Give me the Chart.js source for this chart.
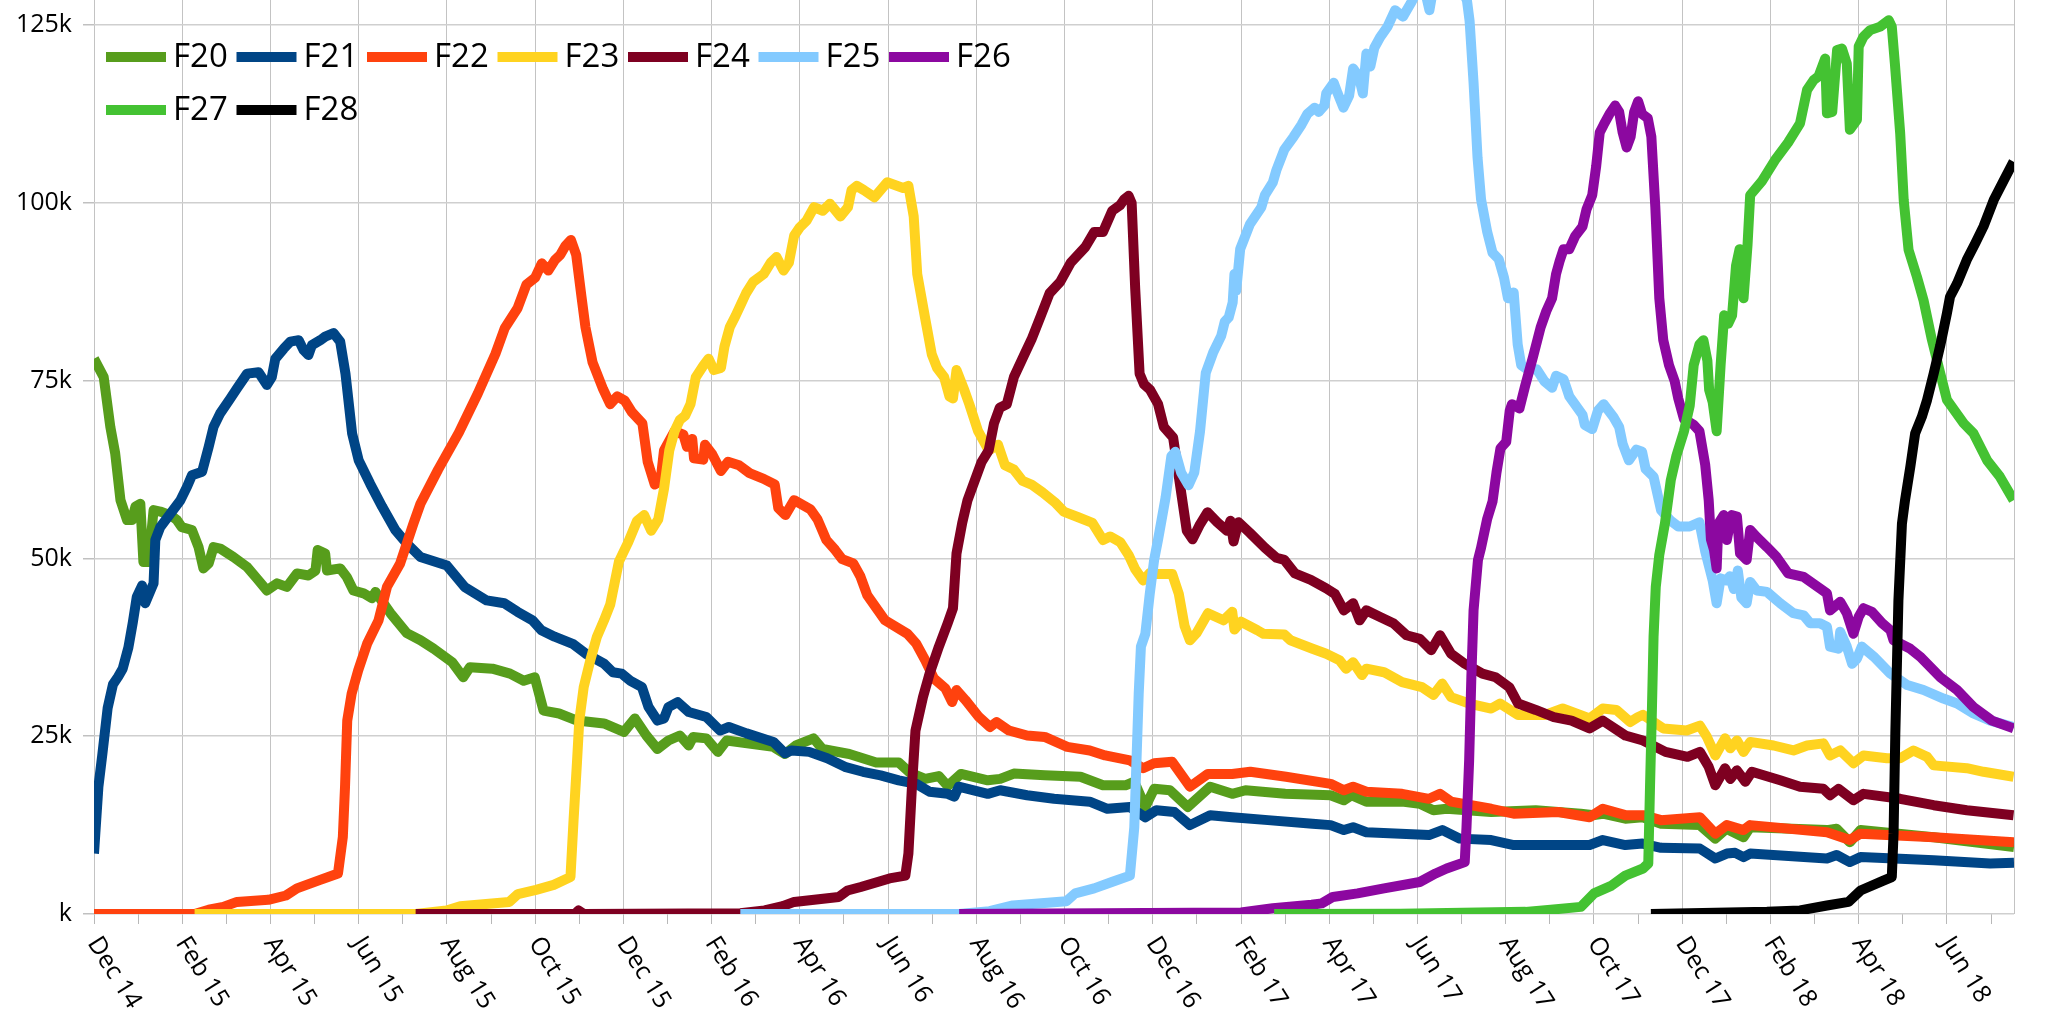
<!DOCTYPE html>
<html>
<head>
<meta charset="utf-8">
<script src="https://cdn.jsdelivr.net/npm/chart.js@4.4.1/dist/chart.umd.min.js"></script>
<style>
  html, body { margin: 0; padding: 0; background: #fff; }
  #wrap { width: 2055px; height: 1013px; }
</style>
</head>
<body>
<div id="wrap"><canvas id="chart" width="2055" height="1013"></canvas></div>
<script>
// x = months since 1 Dec 2014, y = thousands
const monthLabels = ['Dec 14', 'Feb 15', 'Apr 15', 'Jun 15', 'Aug 15', 'Oct 15', 'Dec 15',
  'Feb 16', 'Apr 16', 'Jun 16', 'Aug 16', 'Oct 16', 'Dec 16', 'Feb 17', 'Apr 17', 'Jun 17',
  'Aug 17', 'Oct 17', 'Dec 17', 'Feb 18', 'Apr 18', 'Jun 18'];
const yTicks = [0, 25, 50, 75, 100, 125];
const seriesNames = ['F20', 'F21', 'F22', 'F23', 'F24', 'F25', 'F26', 'F27', 'F28'];

const F20 = [[0,78.1],[0.22,75.5],[0.37,68.5],[0.48,64.8],[0.6,58.2],[0.75,55.4],[0.86,55.4],[0.94,57.3],[1.05,57.7],[1.12,49.5],[1.24,49.5],[1.35,56.8],[1.5,56.6],[1.73,56.1],[1.88,55.4],[1.99,54.4],[2.22,54.0],[2.37,51.6],[2.48,48.6],[2.6,49.3],[2.71,51.6],[2.86,51.4],[3.16,50.2],[3.47,48.8],[3.69,47.2],[3.92,45.5],[4.15,46.5],[4.37,46.0],[4.6,47.9],[4.86,47.6],[5.02,48.3],[5.07,51.2],[5.24,50.7],[5.28,48.3],[5.58,48.6],[5.73,47.4],[5.88,45.5],[6.11,45.1],[6.3,44.4],[6.38,45.3],[6.72,42.3],[7.09,39.5],[7.4,38.5],[7.7,37.3],[8.12,35.4],[8.37,33.3],[8.52,34.7],[9.03,34.5],[9.43,33.8],[9.74,32.8],[9.99,33.3],[10.19,28.6],[10.54,28.2],[10.95,27.2],[11.56,26.8],[12.01,25.6],[12.26,27.5],[12.52,25.1],[12.77,23.2],[13.02,24.4],[13.28,25.1],[13.48,23.7],[13.58,24.9],[13.88,24.7],[14.14,22.8],[14.34,24.4],[15.4,23.5],[15.66,22.5],[15.91,23.7],[16.31,24.7],[16.51,23.2],[17.12,22.5],[17.73,21.3],[18.24,21.3],[18.49,19.9],[18.84,19.0],[19.15,19.4],[19.35,18.0],[19.65,19.7],[20.26,18.8],[20.54,19.0],[20.85,19.75],[21.55,19.5],[22.36,19.3],[22.87,18.1],[23.38,18.1],[23.58,18.6],[23.83,15.05],[24.03,17.6],[24.39,17.4],[24.79,15.05],[25.3,17.9],[25.8,16.9],[26.1,17.4],[27.0,16.9],[28.03,16.7],[28.33,16.0],[28.5,16.7],[28.84,15.8],[29.65,15.8],[30.05,15.5],[30.36,14.6],[30.66,14.8],[31.67,14.35],[32.68,14.6],[33.7,14.1],[34.0,13.9],[34.2,14.1],[34.71,13.4],[35.1,13.6],[35.52,12.7],[36.4,12.5],[36.75,10.6],[37.0,12.0],[37.39,10.8],[37.54,12.2],[39.28,11.8],[39.5,12.0],[39.8,10.1],[40.04,11.8],[41.7,10.8],[43.52,9.4]];

const F21 = [[0,8.5],[0.1,17.9],[0.19,22.5],[0.31,29],[0.43,32.3],[0.55,33.4],[0.65,34.5],[0.78,37.5],[0.88,41],[0.97,44.6],[1.09,46.2],[1.16,43.7],[1.35,46.5],[1.39,52.6],[1.5,54.4],[1.73,56.3],[1.96,58.2],[2.11,60.1],[2.22,61.7],[2.45,62.2],[2.6,65.7],[2.71,68.5],[2.86,70.4],[3.09,72.5],[3.24,73.9],[3.47,76.0],[3.73,76.2],[3.92,74.4],[4.03,75.5],[4.11,78.1],[4.3,79.5],[4.45,80.5],[4.64,80.7],[4.75,79.3],[4.86,78.6],[4.94,80.0],[5.13,80.7],[5.24,81.2],[5.43,81.7],[5.58,80.5],[5.7,76.0],[5.85,67.6],[6.0,63.8],[6.26,60.5],[6.53,57.3],[6.83,54.0],[7.09,52.1],[7.4,50.2],[7.7,49.6],[8.0,49.0],[8.4,46.0],[8.9,44.1],[9.3,43.7],[9.6,42.5],[9.94,41.3],[10.14,39.9],[10.44,39.0],[10.85,38.0],[11.15,36.6],[11.56,35.2],[11.76,34.0],[11.96,33.8],[12.16,32.8],[12.42,31.9],[12.57,29.1],[12.77,27.2],[12.92,27.5],[13.02,29.1],[13.23,29.8],[13.48,28.4],[13.88,27.7],[14.19,25.8],[14.39,26.3],[14.79,25.4],[15.4,24.2],[15.66,22.6],[15.81,23.0],[16.21,22.8],[16.62,21.9],[17.02,20.7],[17.43,20.0],[17.83,19.5],[18.24,18.8],[18.64,18.3],[18.94,17.2],[19.35,16.9],[19.5,16.5],[19.6,17.9],[20.26,16.9],[20.54,17.4],[21.15,16.7],[21.76,16.2],[22.57,15.8],[22.97,14.8],[23.48,15.05],[23.83,13.6],[24.08,14.6],[24.49,14.35],[24.84,12.5],[25.3,13.9],[25.8,13.6],[26.61,13.2],[27.62,12.7],[28.03,12.5],[28.33,11.8],[28.54,12.2],[28.84,11.5],[30.26,11.1],[30.56,11.8],[30.96,10.6],[31.67,10.4],[32.18,9.7],[32.99,9.7],[33.9,9.7],[34.2,10.4],[34.71,9.7],[35.1,9.9],[35.52,9.3],[36.4,9.2],[36.75,7.8],[37.01,8.5],[37.2,8.6],[37.39,8.0],[37.54,8.5],[39.28,7.8],[39.5,8.3],[39.8,7.3],[40.04,8.0],[41.7,7.55],[42.98,7.1],[43.52,7.2]];

const F22 = [[0,0],[2.28,0],[2.6,0.6],[2.93,1.0],[3.24,1.7],[3.95,2.0],[4.35,2.6],[4.6,3.6],[5.08,4.7],[5.53,5.7],[5.64,10.8],[5.69,17.9],[5.74,27.2],[5.84,31.0],[5.99,34.3],[6.19,38.0],[6.45,41.3],[6.64,46.0],[6.94,49.3],[7.24,54.9],[7.4,57.7],[7.8,62.5],[8.27,67.7],[8.7,73.2],[9.1,78.8],[9.31,82.4],[9.6,85.2],[9.8,88.5],[10.0,89.5],[10.15,91.5],[10.3,90.5],[10.45,92.0],[10.57,92.7],[10.69,94.0],[10.81,94.8],[10.93,92.7],[11.05,86.8],[11.14,82.5],[11.3,77.6],[11.54,73.8],[11.7,71.7],[11.86,72.8],[12.03,72.2],[12.19,70.6],[12.43,69.0],[12.55,63.6],[12.71,60.4],[12.84,60.9],[12.92,65.2],[13.16,67.9],[13.36,67.4],[13.44,65.7],[13.56,66.8],[13.6,64.1],[13.81,63.9],[13.85,66.0],[14.01,64.7],[14.21,62.3],[14.37,63.6],[14.62,63.1],[14.86,62.0],[15.18,61.2],[15.43,60.4],[15.51,57.1],[15.67,56.1],[15.87,58.2],[16.24,56.9],[16.4,55.5],[16.6,52.6],[16.8,51.2],[16.96,49.9],[17.21,49.3],[17.37,47.5],[17.53,44.8],[17.77,42.7],[17.93,41.3],[18.44,39.4],[18.64,38.0],[18.84,35.7],[19.04,33.1],[19.3,31.7],[19.45,29.8],[19.55,31.5],[19.75,30.1],[20.06,27.7],[20.31,26.3],[20.46,27.0],[20.74,25.8],[21.15,25.1],[21.55,24.9],[22.06,23.5],[22.57,23.0],[22.92,22.3],[23.48,21.6],[23.78,20.5],[24.03,21.2],[24.44,21.4],[24.84,17.9],[25.25,19.7],[25.8,19.7],[26.21,20.0],[27.02,19.3],[28.03,18.3],[28.33,17.4],[28.54,17.9],[28.84,17.2],[29.65,16.9],[30.26,16.2],[30.51,16.9],[30.76,15.8],[31.67,14.8],[32.18,14.1],[33.19,14.35],[33.9,13.6],[34.2,14.8],[34.71,13.9],[35.11,13.9],[35.52,13.2],[36.4,13.6],[36.75,11.3],[37.01,12.5],[37.39,11.8],[37.54,12.5],[39.28,11.5],[39.8,10.4],[40.04,11.3],[41.7,10.8],[43.52,10.1]];

const F23 = [[2.28,0],[7.29,0],[7.99,0.5],[8.3,1.1],[9.41,1.7],[9.61,2.8],[10.02,3.4],[10.42,4.1],[10.8,5.2],[10.87,13.2],[10.95,21.6],[11.0,27.2],[11.1,31.9],[11.25,35.7],[11.4,39.0],[11.56,41.3],[11.7,43.5],[11.9,49.6],[12.11,52.3],[12.31,55.3],[12.47,56.1],[12.63,53.9],[12.79,55.5],[12.92,59.8],[13.04,65.2],[13.16,67.9],[13.28,69.5],[13.4,70.1],[13.52,71.7],[13.64,75.5],[13.81,77.1],[13.93,78.1],[14.05,76.5],[14.21,76.8],[14.29,79.8],[14.41,82.5],[14.54,84.1],[14.66,85.7],[14.78,87.3],[14.94,88.9],[15.18,90.0],[15.34,91.6],[15.47,92.4],[15.63,90.5],[15.75,91.6],[15.87,95.4],[15.99,96.5],[16.15,97.5],[16.32,99.4],[16.52,98.9],[16.68,99.9],[16.92,98.1],[17.09,99.4],[17.17,101.8],[17.29,102.4],[17.45,101.8],[17.69,100.8],[17.98,102.9],[18.34,102.1],[18.46,102.4],[18.58,98.1],[18.66,90.0],[18.83,84.1],[18.99,78.7],[19.11,76.8],[19.27,75.5],[19.39,72.8],[19.47,72.5],[19.55,76.5],[19.72,73.8],[19.84,71.7],[20.04,67.9],[20.28,65.2],[20.49,66.0],[20.65,63.1],[20.85,62.5],[21.05,60.9],[21.25,60.4],[21.5,59.3],[21.78,57.9],[21.98,56.6],[22.31,55.8],[22.63,55.0],[22.87,52.6],[23.03,53.1],[23.26,52.3],[23.45,50.5],[23.6,48.5],[23.78,46.9],[23.94,48.0],[24.08,47.8],[24.44,47.8],[24.59,45.0],[24.72,40.5],[24.84,38.5],[24.99,39.5],[25.25,42.3],[25.6,41.3],[25.8,42.5],[25.85,40.0],[26.0,41.1],[26.37,39.9],[26.51,39.4],[26.98,39.3],[27.12,38.5],[27.62,37.3],[27.93,36.6],[28.23,35.7],[28.38,34.5],[28.54,35.4],[28.74,33.6],[28.84,34.5],[29.24,34.0],[29.65,32.6],[30.1,31.9],[30.36,30.8],[30.56,32.4],[30.76,30.5],[31.17,29.6],[31.67,28.9],[31.87,29.6],[32.28,28.0],[32.89,28.0],[33.29,28.9],[33.9,27.5],[34.2,28.9],[34.51,28.7],[34.82,27.0],[35.0,27.7],[35.11,28.0],[35.57,26.1],[36.1,25.8],[36.4,26.5],[36.56,24.9],[36.75,22.3],[36.97,24.7],[37.09,23.3],[37.24,24.4],[37.39,22.8],[37.54,24.2],[38.07,23.7],[38.52,23.0],[38.83,23.7],[39.2,24.0],[39.35,22.3],[39.58,23.0],[39.88,21.2],[40.11,22.3],[40.64,21.9],[40.94,21.9],[41.24,23.0],[41.55,22.1],[41.7,20.9],[42.45,20.5],[42.83,20.0],[43.51,19.3]];

const F24 = [[7.29,0],[10.9,0],[10.98,0.5],[11.1,0],[14.65,0.1],[15.2,0.5],[15.61,1.1],[15.87,1.7],[16.88,2.4],[17.08,3.3],[17.38,3.8],[18.03,5.0],[18.39,5.4],[18.46,8.5],[18.54,17.9],[18.62,25.8],[18.79,30.5],[18.94,33.8],[19.15,37.6],[19.35,40.9],[19.47,43],[19.55,50.7],[19.68,55.0],[19.8,58.2],[19.96,60.9],[20.12,63.6],[20.28,65.2],[20.4,69.0],[20.53,71.2],[20.69,71.7],[20.85,75.5],[21.09,78.7],[21.25,80.8],[21.46,84.1],[21.66,87.3],[21.9,88.9],[22.14,91.6],[22.47,93.8],[22.67,95.9],[22.87,95.9],[23.08,98.9],[23.26,99.7],[23.35,100.5],[23.45,101.0],[23.52,100.0],[23.6,88.0],[23.7,76.0],[23.8,74.5],[23.94,73.7],[24.12,71.7],[24.25,68.5],[24.46,67.0],[24.59,61.5],[24.77,53.9],[24.9,52.7],[25.07,54.8],[25.24,56.5],[25.46,55.1],[25.68,53.9],[25.76,55.3],[25.83,52.4],[25.94,55.1],[26.2,53.6],[26.54,51.5],[26.8,50.1],[26.98,49.8],[27.22,47.9],[27.58,47.0],[27.93,45.8],[28.13,45.0],[28.33,42.7],[28.54,43.7],[28.69,41.3],[28.84,42.7],[29.14,41.8],[29.45,40.9],[29.75,39.2],[30.05,38.7],[30.31,37.1],[30.51,39.2],[30.76,36.6],[31.07,35.2],[31.47,33.8],[31.77,33.3],[32.08,31.9],[32.28,29.6],[32.68,28.7],[33.09,27.7],[33.49,27.2],[33.9,26.1],[34.2,27.2],[34.71,25.1],[35.11,24.4],[35.62,22.8],[36.12,22.1],[36.4,22.8],[36.6,20.7],[36.75,18.1],[36.97,20.5],[37.09,19.0],[37.24,20.2],[37.43,18.6],[37.58,20.0],[38.22,18.8],[38.67,17.9],[39.2,17.6],[39.35,16.7],[39.54,17.6],[39.88,16.0],[40.11,16.9],[40.94,16.2],[41.7,15.3],[42.45,14.6],[43.51,13.9]];

const F25 = [[14.65,0],[19.61,0],[20.3,0.4],[20.83,1.2],[22.04,1.8],[22.24,2.9],[22.67,3.6],[23.07,4.5],[23.48,5.4],[23.58,12.2],[23.63,21.6],[23.68,31.0],[23.73,37.6],[23.83,39.4],[23.93,45.0],[24.03,49.8],[24.12,52.7],[24.29,58.6],[24.42,64.4],[24.51,65.0],[24.64,62.1],[24.81,60.3],[24.94,62.1],[25.07,67.9],[25.2,76.1],[25.37,79.0],[25.55,81.3],[25.63,83.3],[25.72,83.9],[25.81,86.0],[25.85,90.0],[25.89,87.7],[25.98,93.5],[26.2,97.0],[26.46,99.4],[26.54,101.1],[26.72,102.9],[26.8,104.6],[26.98,107.5],[27.19,109.3],[27.37,111.0],[27.5,112.5],[27.67,113.4],[27.76,112.8],[27.89,113.7],[27.93,115.4],[28.1,116.9],[28.19,115.4],[28.32,113.4],[28.45,115.1],[28.54,118.9],[28.67,117.8],[28.76,115.4],[28.84,121.0],[28.93,119.2],[29.02,121.8],[29.15,123.3],[29.32,124.8],[29.49,127.1],[29.67,126.2],[29.84,128.0],[29.97,129.5],[30.1,130],[30.2,129],[30.27,127.1],[30.35,130],[30.88,129.5],[31.0,130],[31.12,128.5],[31.18,125.6],[31.27,116.9],[31.36,106.4],[31.44,100.5],[31.58,95.9],[31.7,93.0],[31.84,92.1],[31.96,89.5],[32.05,86.6],[32.18,87.4],[32.27,80.1],[32.35,77.2],[32.49,76.6],[32.7,76.6],[32.88,74.9],[33.05,74.0],[33.14,75.7],[33.31,75.2],[33.44,72.8],[33.74,70.2],[33.79,68.8],[33.96,68.2],[34.09,70.8],[34.22,71.7],[34.44,69.9],[34.57,68.5],[34.65,66.1],[34.79,63.8],[34.96,65.3],[35.09,65.0],[35.17,62.6],[35.35,61.5],[35.52,56.8],[35.74,55.3],[35.91,54.5],[36.17,54.5],[36.39,55.1],[36.52,51.0],[36.69,46.9],[36.78,43.7],[36.87,47.2],[37.0,46.9],[37.08,47.5],[37.17,45.7],[37.26,48.3],[37.34,44.5],[37.46,43.7],[37.54,46.7],[37.69,45.5],[37.92,45.3],[38.22,43.7],[38.52,42.3],[38.75,42.0],[38.9,40.9],[39.12,40.9],[39.28,40.4],[39.35,37.6],[39.54,37.3],[39.58,39.7],[39.73,37.6],[39.85,35.2],[39.96,35.9],[40.07,37.6],[40.34,36.2],[40.72,33.8],[41.1,32.2],[41.47,31.5],[41.92,30.3],[42.23,29.6],[42.6,28.2],[42.98,27.2],[43.51,26.3]];

const F26 = [[19.61,0],[26.0,0.2],[26.72,0.8],[27.6,1.3],[27.83,1.5],[28.08,2.4],[28.64,2.9],[29.24,3.6],[30.05,4.5],[30.41,5.7],[30.66,6.4],[31.07,7.3],[31.11,12.2],[31.17,21.6],[31.22,33.3],[31.27,42.7],[31.37,49.8],[31.44,51.5],[31.58,55.6],[31.7,58.0],[31.79,62.1],[31.88,65.5],[32.01,66.4],[32.09,70.8],[32.14,71.7],[32.31,71.1],[32.44,74.3],[32.62,78.4],[32.79,82.5],[32.92,84.8],[33.05,86.6],[33.14,90.0],[33.22,91.8],[33.31,93.5],[33.44,93.5],[33.57,95.3],[33.74,96.7],[33.83,99.1],[33.96,101.1],[34.05,105.2],[34.13,109.9],[34.22,111.0],[34.35,112.5],[34.48,113.7],[34.57,112.8],[34.65,109.9],[34.74,107.8],[34.83,109.3],[34.91,112.8],[35.0,114.3],[35.09,112.5],[35.22,111.9],[35.3,109.3],[35.39,99.4],[35.48,86.6],[35.57,80.7],[35.7,77.2],[35.83,74.9],[35.91,72.5],[36.04,69.6],[36.26,68.8],[36.39,67.9],[36.52,63.2],[36.6,58.2],[36.65,52.7],[36.72,51.2],[36.78,48.6],[36.82,54.9],[36.94,56.1],[37.01,52.6],[37.12,56.1],[37.24,55.9],[37.31,50.7],[37.46,49.8],[37.54,54.0],[37.69,53.0],[37.92,51.6],[38.14,50.2],[38.4,47.9],[38.75,47.4],[39.12,45.8],[39.28,45.1],[39.35,42.7],[39.58,43.9],[39.73,42.3],[39.88,39.4],[40.0,41.8],[40.11,43.0],[40.3,42.5],[40.53,40.9],[40.72,39.9],[40.79,38.5],[41.17,37.3],[41.39,36.2],[41.85,33.3],[42.23,31.5],[42.6,29.1],[43.02,27.2],[43.51,26.1]];

const F27 = [[26.75,0],[29.61,0.05],[32.45,0.3],[33.02,0.6],[33.7,1.0],[34.0,2.9],[34.4,4.0],[34.71,5.4],[35.11,6.4],[35.23,7.1],[35.27,18],[35.31,28],[35.35,39],[35.4,46],[35.48,50.5],[35.61,55],[35.74,61],[35.87,64.5],[36.04,67.9],[36.17,71.5],[36.26,77.2],[36.39,80.1],[36.48,80.7],[36.57,77.8],[36.61,73.7],[36.69,72.0],[36.78,67.9],[36.87,77.2],[36.95,84.2],[37.04,83.0],[37.13,84.2],[37.22,91.2],[37.3,93.5],[37.39,86.6],[37.48,94.1],[37.54,101.1],[37.8,103],[38.1,106],[38.4,108.5],[38.67,111.2],[38.83,115.9],[38.98,117.3],[39.09,117.8],[39.24,120.3],[39.28,112.6],[39.4,112.8],[39.51,121.5],[39.62,121.7],[39.73,119.6],[39.8,110.3],[39.96,111.7],[40.0,122.0],[40.11,123.4],[40.26,124.3],[40.49,124.8],[40.68,125.7],[40.75,124.8],[40.82,119.6],[40.94,109.8],[41.02,100.4],[41.13,93.4],[41.32,89.6],[41.47,86.3],[41.65,81],[41.85,76],[42.0,72.3],[42.38,69.0],[42.6,67.6],[42.91,63.8],[43.2,61.5],[43.51,58.2]];

const F28 = [[35.29,0],[37.92,0.3],[38.67,0.5],[39.28,1.2],[39.77,1.7],[40.04,3.3],[40.56,4.7],[40.75,5.2],[40.79,11.3],[40.83,25.4],[40.9,44.1],[40.98,54.9],[41.05,58.2],[41.17,62.9],[41.28,67.6],[41.43,69.9],[41.55,72.3],[41.7,76],[41.85,80],[42.0,84.5],[42.07,86.8],[42.23,88.7],[42.45,92.0],[42.64,94.3],[42.83,96.7],[43.06,100.4],[43.29,103.2],[43.51,105.8]];

const seriesData = [F20, F21, F22, F23, F24, F25, F26, F27, F28];
const colors = ['#579d1c', '#004586', '#ff420e', '#ffd320', '#7e0021', '#83caff', '#8c08a0', '#44c232', '#000000'];

const xMax = 43.52;
const yMax = 128.54;
const FONT = '"Open Sans", "Noto Sans", sans-serif';

// legend drawn inside the plot, two rows, top left
const legendInside = {
    id: 'legendInside',
    afterDatasetsDraw(chart) {
        const ctx = chart.ctx;
        ctx.save();
        ctx.font = '33px ' + FONT;
        ctx.textAlign = 'left';
        ctx.textBaseline = 'alphabetic';
        chart.data.datasets.forEach(function (ds, i) {
            const row = i < 7 ? 0 : 1;
            const col = i < 7 ? i : i - 7;
            const x = 106 + col * 130.5;
            const y = 57 + row * 53;
            ctx.fillStyle = ds.borderColor;
            ctx.fillRect(x, y - 5, 60, 10);
            ctx.fillStyle = '#000';
            ctx.fillText(ds.label, x + 67, y + 9.5);
        });
        ctx.restore();
    }
};

// month labels under the x axis, turned clockwise
const slantedLabels = {
    id: 'slantedLabels',
    afterDraw(chart) {
        const sx = chart.scales.x;
        const ctx = chart.ctx;
        ctx.save();
        ctx.font = '25px ' + FONT;
        ctx.fillStyle = '#000';
        ctx.textAlign = 'left';
        ctx.textBaseline = 'alphabetic';
        monthLabels.forEach(function (lab, i) {
            const px = sx.getPixelForValue(i * 2);
            ctx.save();
            ctx.translate(px - 7, sx.top + 29);
            ctx.rotate(58 * Math.PI / 180);
            ctx.fillText(lab, 0, 0);
            ctx.restore();
        });
        ctx.restore();
    }
};

const datasets = seriesData.map(function (arr, i) {
    return {
        label: seriesNames[i],
        data: arr.map(p => ({ x: p[0], y: p[1] })),
        borderColor: colors[i],
        backgroundColor: colors[i],
        borderWidth: 10,
        borderJoinStyle: 'round',
        pointRadius: 0,
        tension: 0,
        order: seriesData.length - i
    };
});

const ctx = document.getElementById('chart').getContext('2d');
const chart = new Chart(ctx, {
    type: 'line',
    data: { datasets: datasets },
    plugins: [legendInside, slantedLabels],
    options: {
        responsive: false,
        devicePixelRatio: 1,
        animation: false,
        layout: { padding: { left: 0, right: 41, top: 0, bottom: 0 } },
        plugins: { legend: { display: false }, tooltip: { enabled: false } },
        scales: {
            x: {
                type: 'linear',
                min: 0,
                max: xMax,
                afterBuildTicks: function (s) {
                    const t = [];
                    for (let m = 0; m <= 43; m++) t.push({ value: m });
                    t.push({ value: xMax });
                    s.ticks = t;
                },
                afterFit: function (s) {
                    s.height = 99;
                    s.paddingLeft = 0;
                    s.paddingRight = 0;
                },
                ticks: { display: false },
                border: { display: false },
                grid: {
                    lineWidth: 1,
                    tickLength: 10,
                    color: c => (c.tick && (c.tick.value % 2 === 0 || c.tick.value === xMax)) ? '#c3c3c3' : 'rgba(0,0,0,0)',
                    tickColor: c => (c.tick && c.tick.value === xMax) ? 'rgba(0,0,0,0)' : '#b8b8b8'
                }
            },
            y: {
                min: 0,
                max: yMax,
                afterBuildTicks: function (s) {
                    s.ticks = yTicks.map(v => ({ value: v }));
                },
                afterFit: function (s) {
                    s.width = 94;
                    s.paddingTop = 0;
                    s.paddingBottom = 0;
                },
                border: { display: false },
                grid: {
                    lineWidth: 1.5,
                    tickLength: 11,
                    color: '#cfcfcf',
                    tickColor: '#c0c0c0'
                },
                ticks: {
                    padding: 11,
                    color: '#000',
                    font: { family: FONT, size: 25 },
                    callback: v => (v === 0 ? '' : v) + 'k'
                }
            }
        }
    }
});
</script>
</body>
</html>
